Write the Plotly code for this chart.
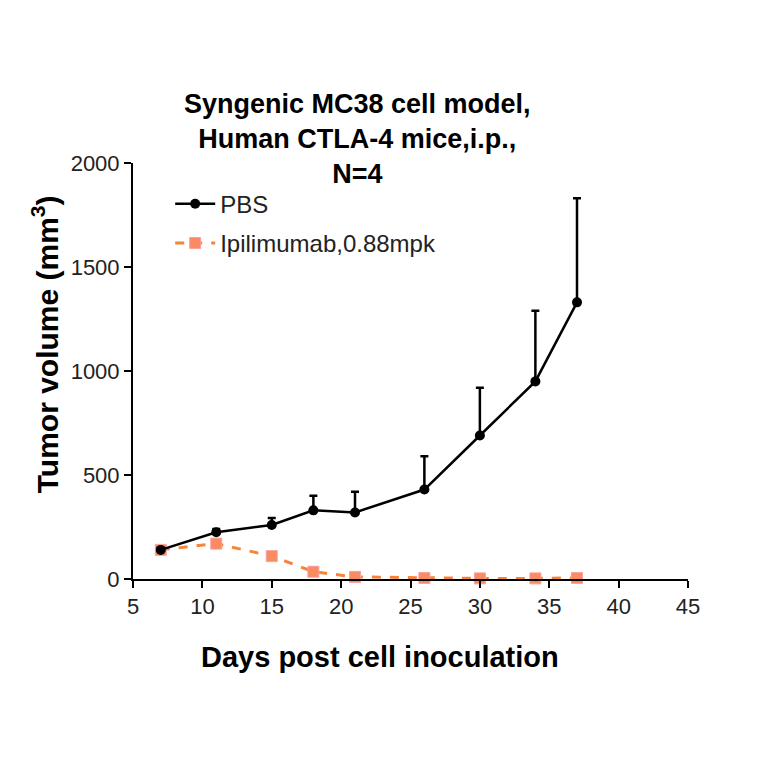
import plotly.graph_objects as go

days = [7, 11, 15, 18, 21, 26, 30, 34, 37]
pbs_mean = [140, 225, 260, 330, 320, 430, 690, 950, 1330]
pbs_err = [8, 15, 33, 70, 100, 160, 230, 340, 500]
ipi_mean = [140, 170, 110, 35, 10, 5, 3, 3, 5]

FONT = "Liberation Sans, Arial, sans-serif"
ORANGE_LINE = "#F5843C"
ORANGE_MARK = "#FA8A60"

fig = go.Figure()
fig.add_trace(go.Scatter(
    x=days, y=ipi_mean, name="Ipilimumab,0.88mpk", mode="lines+markers",
    line=dict(color=ORANGE_LINE, width=3, dash="dash"),
    marker=dict(symbol="square", size=11, color=ORANGE_MARK, line=dict(color="#FBA0A0", width=1)),
    cliponaxis=False, legendrank=2, legendgroup="ipi",
))
fig.add_trace(go.Scatter(
    x=days, y=pbs_mean, name="PBS", mode="lines+markers",
    line=dict(color="black", width=2.5),
    marker=dict(symbol="circle", size=10, color="black"),
    error_y=dict(type="data", array=pbs_err, arrayminus=[0] * len(days), symmetric=False,
                 color="black", thickness=2.5, width=4),
    cliponaxis=False, legendrank=1, legendgroup="pbs",
))

axis_style = dict(showline=True, linecolor="black", linewidth=2, ticks="outside", tickwidth=2,
                  ticklen=7, tickcolor="black", showgrid=False, zeroline=False, automargin=False,
                  tickfont=dict(size=22, color="#222"))
fig.update_xaxes(range=[5, 45], tickvals=list(range(5, 50, 5)), **axis_style)
fig.update_yaxes(range=[0, 2000], tickvals=[0, 500, 1000, 1500, 2000], **axis_style)

# titles as annotations: the original has them off-centre
fig.add_annotation(text="<b>Syngenic MC38 cell model,<br>Human CTLA-4 mice,i.p.,<br>N=4</b>",
                   xref="paper", yref="paper", x=0.404, y=0.933, xanchor="center", yanchor="bottom",
                   showarrow=False, font=dict(size=27, color="black"), align="center")
fig.add_annotation(text="<b>Days post cell inoculation</b>", xref="paper", yref="paper",
                   x=0.445, y=-0.1875, xanchor="center", yanchor="middle", showarrow=False,
                   font=dict(size=29, color="black"))
fig.add_annotation(text="<b>Tumor volume (mm<sup>3</sup>)</b>", xref="paper", yref="paper",
                   x=-0.158, y=0.565, xanchor="center", yanchor="middle", textangle=-90, showarrow=False,
                   font=dict(size=30, color="black"))

# the page body adds an 8px offset, so margins are shifted to compensate
fig.update_layout(
    width=764, height=764, template="simple_white", font=dict(family=FONT, color="black"),
    plot_bgcolor="white", paper_bgcolor="white",
    margin=dict(l=125, r=84, t=155, b=193),
    showlegend=True,
    legend=dict(x=0.067, y=0.955, xanchor="left", yanchor="top", font=dict(size=24, color="#222"),
                bgcolor="rgba(0,0,0,0)", tracegroupgap=5, itemwidth=40),
)
fig.write_html("out.html")
